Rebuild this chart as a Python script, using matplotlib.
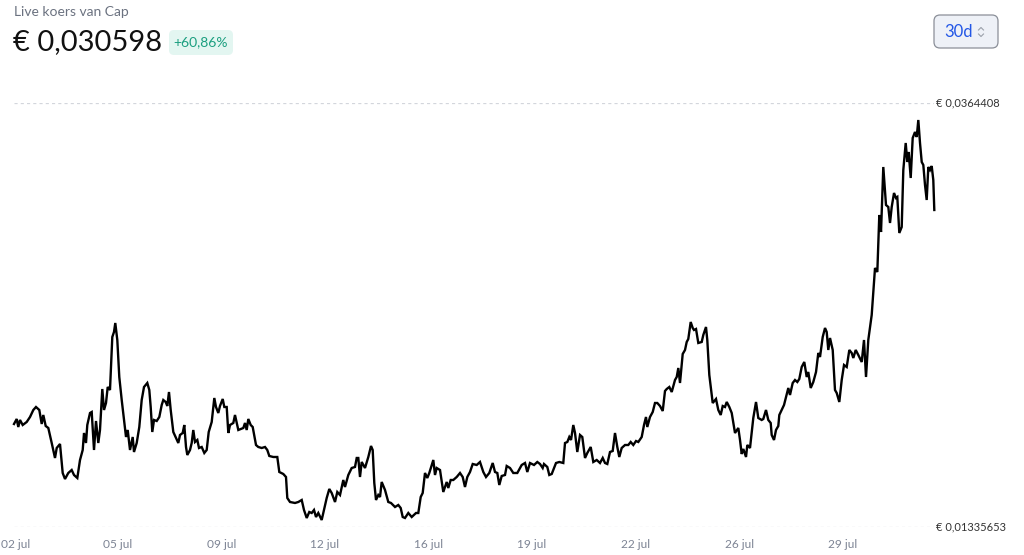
import matplotlib
matplotlib.use("Agg")
import matplotlib.pyplot as plt
from matplotlib.patches import FancyBboxPatch
from matplotlib.lines import Line2D
from matplotlib.transforms import ScaledTranslation

plt.rcParams['font.family'] = ['Lato', 'DejaVu Sans']

# ---- data (days since 02 jul, price in EUR) ----
t_days = [0.000, 0.091, 0.145, 0.203, 0.294, 0.429, 0.541, 0.652, 0.743, 0.855, 0.936, 0.990, 1.071, 1.159, 1.274, 1.385, 1.443, 1.554, 1.645, 1.723,
          1.834, 1.949, 2.027, 2.139, 2.230, 2.321, 2.365, 2.432, 2.476, 2.568, 2.625, 2.703, 2.770, 2.848, 2.905, 2.983, 3.041, 3.108, 3.166, 3.243,
          3.321, 3.378, 3.422, 3.490, 3.557, 3.639, 3.716, 3.784, 3.841, 3.919, 4.010, 4.054, 4.145, 4.233, 4.314, 4.392, 4.503, 4.571, 4.618, 4.672,
          4.730, 4.821, 4.909, 4.990, 5.044, 5.125, 5.179, 5.236, 5.294, 5.382, 5.473, 5.551, 5.608, 5.699, 5.753, 5.811, 5.855, 5.946, 6.003, 6.057,
          6.115, 6.193, 6.250, 6.341, 6.429, 6.510, 6.578, 6.679, 6.767, 6.824, 6.902, 6.959, 7.051, 7.105, 7.186, 7.240, 7.297, 7.409, 7.466, 7.578,
          7.747, 7.804, 7.861, 7.916, 7.997, 8.064, 8.176, 8.253, 8.368, 8.480, 8.557, 8.625, 8.760, 8.895, 8.963, 9.098, 9.189, 9.233, 9.324, 9.493,
          9.605, 9.720, 9.797, 9.889, 9.976, 10.057, 10.135, 10.203, 10.280, 10.395, 10.473, 10.564, 10.652, 10.733, 10.845, 10.922, 11.014, 11.125, 11.182, 11.294,
          11.409, 11.520, 11.578, 11.632, 11.689, 11.747, 11.858, 11.970, 12.061, 12.118, 12.172, 12.230, 12.307, 12.365, 12.422, 12.534, 12.645, 12.736, 12.872, 12.983,
          13.064, 13.132, 13.209, 13.321, 13.436, 13.581, 13.659, 13.740, 13.807, 13.885, 13.963, 14.030, 14.166, 14.223, 14.280, 14.392, 14.503, 14.618, 14.672, 14.753,
          14.841, 14.956, 15.068, 15.159, 15.236, 15.314, 15.405, 15.497, 15.632, 15.743, 15.855, 15.946, 16.057, 16.172, 16.250, 16.328, 16.395, 16.476, 16.588, 16.645,
          16.757, 16.868, 17.003, 17.152, 17.264, 17.341, 17.432, 17.568, 17.679, 17.770, 17.861, 17.905, 18.017, 18.084, 18.166, 18.311, 18.422, 18.557, 18.615, 18.693,
          18.760, 18.818, 18.895, 18.953, 19.030, 19.122, 19.199, 19.291, 19.368, 19.483, 19.571, 19.686, 19.797, 19.889, 19.966, 20.044, 20.135, 20.226, 20.304, 20.382,
          20.449, 20.530, 20.642, 20.753, 20.834, 20.922, 21.014, 21.091, 21.206, 21.284, 21.351, 21.395, 21.486, 21.578, 21.655, 21.733, 21.824, 21.916, 21.993, 22.051,
          22.139, 22.220, 22.331, 22.389, 22.443, 22.500, 22.591, 22.669, 22.726, 22.780, 22.861, 22.929, 22.973, 23.041, 23.118, 23.233, 23.287, 23.378, 23.422, 23.490,
          23.605, 23.716, 23.794, 23.875, 23.943, 24.020, 24.078, 24.166, 24.247, 24.301, 24.358, 24.470, 24.527, 24.584, 24.639, 24.730, 24.774, 24.865, 24.922, 24.976,
          25.068, 25.145, 25.260, 25.314, 25.405, 25.483, 25.564, 25.598, 25.676, 25.743, 25.821, 25.855, 25.936, 26.014, 26.081, 26.159, 26.216, 26.307, 26.385, 26.463,
          26.530, 26.611, 26.699, 26.780, 26.834, 26.916, 27.003, 27.095, 27.172, 27.230, 27.321, 27.399, 27.456, 27.510, 27.568, 27.659, 27.736, 27.794, 27.882, 27.963,
          28.041, 28.132, 28.220, 28.301, 28.355, 28.436, 28.524, 28.639, 28.716, 28.784, 28.861, 28.976, 29.088, 29.166, 29.233, 29.291, 29.368, 29.459, 29.537, 29.595,
          29.652, 29.730, 29.797, 29.841, 29.909, 29.990, 30.044, 30.125, 30.179, 30.226, 30.294, 30.361, 30.439, 30.497, 30.551, 30.608, 30.666, 30.720, 30.777, 30.834,
          30.889, 30.946, 31.003, 31.057, 31.091]

price = [0.018965, 0.019237, 0.018801, 0.019183, 0.018910, 0.019074, 0.019346, 0.019727, 0.019890, 0.019727, 0.018965, 0.019455, 0.018856, 0.018747, 0.017930, 0.017114, 0.017658, 0.017876, 0.016297, 0.015970,
         0.016297, 0.016460, 0.016188, 0.016025, 0.017005, 0.017549, 0.018475, 0.017930, 0.018910, 0.019564, 0.019618, 0.017549, 0.019128, 0.017930, 0.018638, 0.020870, 0.019727, 0.020108, 0.020979, 0.020816,
         0.023701, 0.023974, 0.024464, 0.023538, 0.021524, 0.020271, 0.019183, 0.018257, 0.018638, 0.017549, 0.018257, 0.017440, 0.017930, 0.018801, 0.020271, 0.020979, 0.021197, 0.020816, 0.019890, 0.018529,
         0.019183, 0.019128, 0.019346, 0.019999, 0.020271, 0.020163, 0.019945, 0.020707, 0.019727, 0.018529, 0.018203, 0.017930, 0.018366, 0.018475, 0.018910, 0.017713, 0.017277, 0.017549, 0.017930, 0.018638,
         0.017985, 0.018094, 0.017658, 0.017713, 0.017386, 0.017549, 0.018529, 0.019074, 0.020380, 0.019890, 0.019564, 0.019945, 0.020326, 0.019890, 0.019890, 0.018475, 0.018910, 0.019019, 0.019455, 0.018638,
         0.018747, 0.019019, 0.018638, 0.019237, 0.018910, 0.018801, 0.017821, 0.017713, 0.017658, 0.017713, 0.017549, 0.017223, 0.017168, 0.017168, 0.016351, 0.016243, 0.016079, 0.014936, 0.014718, 0.014664,
         0.014718, 0.014827, 0.014283, 0.013847, 0.014174, 0.014119, 0.014283, 0.013901, 0.014119, 0.013738, 0.014283, 0.014936, 0.015426, 0.015208, 0.014718, 0.015263, 0.015099, 0.015916, 0.015535, 0.016188,
         0.016569, 0.016624, 0.017114, 0.017114, 0.016079, 0.016896, 0.016569, 0.017168, 0.017767, 0.017549, 0.015753, 0.014827, 0.015099, 0.014990, 0.015807, 0.015371, 0.014718, 0.014664, 0.014446, 0.014555,
         0.014391, 0.013901, 0.013847, 0.014119, 0.013901, 0.014119, 0.014119, 0.014990, 0.015208, 0.016297, 0.016025, 0.016297, 0.017005, 0.016188, 0.016569, 0.016460, 0.015263, 0.015807, 0.015480, 0.015916,
         0.015916, 0.016079, 0.016297, 0.016079, 0.015535, 0.016079, 0.016351, 0.016787, 0.016733, 0.016896, 0.016351, 0.016079, 0.016297, 0.016841, 0.016351, 0.016297, 0.015644, 0.016134, 0.016188, 0.016678,
         0.016569, 0.016297, 0.016297, 0.016733, 0.016841, 0.016351, 0.016841, 0.016733, 0.016896, 0.016787, 0.016569, 0.016787, 0.016624, 0.016188, 0.016243, 0.016841, 0.016896, 0.016841, 0.017930, 0.017985,
         0.018257, 0.018094, 0.018910, 0.018475, 0.017440, 0.018366, 0.018257, 0.017114, 0.017386, 0.017713, 0.016896, 0.017005, 0.016841, 0.017114, 0.016841, 0.016787, 0.017440, 0.017495, 0.018475, 0.017713,
         0.017168, 0.017658, 0.017821, 0.017821, 0.017985, 0.017821, 0.018039, 0.017985, 0.018257, 0.018910, 0.019346, 0.018801, 0.019346, 0.019618, 0.020108, 0.020108, 0.019945, 0.019673, 0.020761, 0.020870,
         0.020979, 0.020707, 0.021360, 0.021524, 0.022014, 0.021197, 0.022776, 0.022994, 0.023429, 0.023593, 0.024518, 0.024191, 0.024083, 0.024137, 0.023375, 0.023429, 0.023810, 0.024246, 0.023538, 0.021633,
         0.020108, 0.020326, 0.019727, 0.019455, 0.019945, 0.019890, 0.020163, 0.019890, 0.019564, 0.019019, 0.018475, 0.018747, 0.018094, 0.017331, 0.017604, 0.017168, 0.017821, 0.017658, 0.018475, 0.019291,
         0.020163, 0.019291, 0.019183, 0.019237, 0.019727, 0.019183, 0.019019, 0.018366, 0.018094, 0.018638, 0.018856, 0.019455, 0.019727, 0.019999, 0.020435, 0.020925, 0.020544, 0.021197, 0.021360, 0.021251,
         0.021415, 0.022068, 0.022340, 0.021524, 0.021796, 0.020925, 0.021251, 0.021796, 0.022830, 0.022613, 0.023701, 0.024191, 0.023974, 0.022994, 0.023647, 0.022994, 0.020816, 0.020652, 0.020163, 0.021360,
         0.022177, 0.022068, 0.022994, 0.022830, 0.022558, 0.022994, 0.022721, 0.022340, 0.023538, 0.021524, 0.023538, 0.024899, 0.027458, 0.027240, 0.030344, 0.029418, 0.032957, 0.030888, 0.030779, 0.029908,
         0.030779, 0.031541, 0.031269, 0.031324, 0.029364, 0.029690, 0.032793, 0.034264, 0.033229, 0.033774, 0.032358, 0.034536, 0.034862, 0.034590, 0.035516, 0.034264, 0.033229, 0.033066, 0.031977, 0.031160,
         0.032957, 0.032793, 0.033011, 0.032249, 0.030616]

tick_labels = ["02 jul", "05 jul", "09 jul", "12 jul", "16 jul", "19 jul", "22 jul", "26 jul", "29 jul"]
tick_step_days = 3.5
y_top = 0.0364408
y_bottom = 0.01335653
y_top_label = "€ 0,0364408"
y_bottom_label = "€ 0,01335653"
title = "Live koers van Cap"
current_price = "€ 0,030598"
change_pct = "+60,86%"
range_label = "30d"

W, H = 1024, 555
fig = plt.figure(figsize=(W / 100, H / 100), dpi=100)
fig.patch.set_facecolor("white")

# axes placed in pixel coordinates: x 14..934.3, y 103..527
x0, x1, ytop, ybot = 14, 934.3, 103, 527
ax = fig.add_axes([x0 / W, 1 - ybot / H, (x1 - x0) / W, (ybot - ytop) / H])
ax.set_xlim(0, t_days[-1])
ax.set_ylim(y_bottom, y_top)
for s in ax.spines.values():
    s.set_visible(False)
ax.set_yticks([])
ax.set_facecolor("none")

ax.axhline(y_top, color="#d3d6dc", lw=0.9, ls=(0, (2.5, 2.5)), zorder=1)
ax.axhline(y_bottom, color="#d3d6dc", lw=0.9, ls=(0, (2.5, 2.5)), zorder=1)

ax.plot(t_days, price, color="black", lw=1.7, solid_joinstyle="miter", zorder=3, clip_on=False)

ax.set_xticks([k * tick_step_days for k in range(len(tick_labels))])
ax.set_xticklabels(tick_labels)
ax.tick_params(axis="x", length=0, pad=9, labelsize=8.6, labelcolor="#7d8494")
# first label sits flush with the left edge, as in the reference
first = ax.get_xticklabels()[0]
first.set_ha("left")
first.set_transform(first.get_transform() + ScaledTranslation(-13 / 100, 0, fig.dpi_scale_trans))

ax.text(1.002, y_top, y_top_label, transform=ax.get_yaxis_transform(), ha="left", va="center",
        fontsize=8, color="#333333")
ax.text(1.002, y_bottom, y_bottom_label, transform=ax.get_yaxis_transform(), ha="left", va="center",
        fontsize=8, color="#333333")

# header
def fy(y):
    return 1 - y / H

fig.text(14 / W, fy(12), title, ha="left", va="center", fontsize=10, color="#6b7280")
fig.text(13 / W, fy(42), current_price, ha="left", va="center", fontsize=21, color="#111111")

inch = fig.dpi_scale_trans
badge = FancyBboxPatch((169 / 100, (H - 55) / 100), 64 / 100, 25 / 100,
                       boxstyle="round,pad=0,rounding_size=0.05", transform=inch,
                       facecolor="#e3f6f1", edgecolor="none")
fig.add_artist(badge)
fig.text(201 / W, fy(42.5), change_pct, ha="center", va="center", fontsize=10, color="#1a9e7f")

btn = FancyBboxPatch((934 / 100, (H - 48) / 100), 64 / 100, 33 / 100,
                     boxstyle="round,pad=0,rounding_size=0.06", transform=inch,
                     facecolor="#eef1f7", edgecolor="#8b8f98", linewidth=0.9)
fig.add_artist(btn)
fig.text(959 / W, fy(32), range_label, ha="center", va="center", fontsize=12, color="#2357e6")
# small up/down chevrons
cx = 981
fig.add_artist(Line2D([(cx - 2.5) / W, cx / W, (cx + 2.5) / W], [fy(30), fy(27.5), fy(30)],
                      color="#9aa0aa", lw=0.8))
fig.add_artist(Line2D([(cx - 2.5) / W, cx / W, (cx + 2.5) / W], [fy(34), fy(36.5), fy(34)],
                      color="#9aa0aa", lw=0.8))

fig.savefig("out.png", dpi=100, facecolor="white")
